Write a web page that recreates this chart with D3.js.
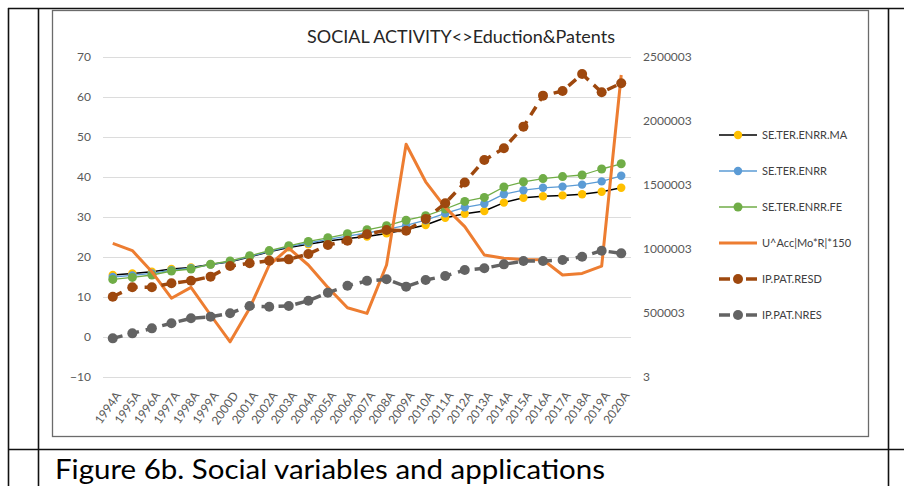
<!DOCTYPE html>
<html>
<head>
<meta charset="utf-8">
<script src="https://cdn.jsdelivr.net/npm/d3@7"></script>
<style>
  html, body { margin: 0; padding: 0; background: #fff; }
  svg { display: block; }
  text { font-family: Lato, "Open Sans", sans-serif; }
</style>
</head>
<body>
<svg id="chart" width="904" height="486"></svg>
<script>
// Categories (years)
const years = ["1994A","1995A","1996A","1997A","1998A","1999A","2000D","2001A","2002A","2003A",
  "2004A","2005A","2006A","2007A","2008A","2009A","2010A","2011A","2012A","2013A",
  "2014A","2015A","2016A","2017A","2018A","2019A","2020A"];

// Left-axis series
const enrrMA = [15.5,15.9,16.3,17.0,17.4,18.1,18.8,20.0,21.3,22.4,23.2,24.0,24.6,25.1,25.9,26.9,28.0,29.8,30.8,31.5,33.6,34.8,35.2,35.4,35.7,36.3,37.3];
const enrr   = [15.0,15.4,15.9,16.7,17.2,18.1,18.9,20.1,21.4,22.6,23.5,24.4,25.2,26.0,26.9,27.9,29.2,30.9,32.4,33.3,35.7,36.7,37.3,37.6,38.1,38.9,40.3];
const enrrFE = [14.4,14.9,15.5,16.5,17.0,18.2,19.0,20.3,21.6,22.8,23.9,24.8,25.8,26.8,27.8,29.2,30.3,32.0,33.9,34.9,37.5,38.8,39.6,40.1,40.5,42.0,43.3];
const uAcc   = [23.4,21.6,16.3,9.7,12.4,5.5,-1.2,7.2,18.0,22.2,18.0,12.4,7.3,5.9,18.0,48.2,38.8,32.4,27.6,20.5,19.7,19.4,19.3,15.5,15.9,17.7,65.5];

// Right-axis series
const patResd = [627000,701000,701000,732000,752000,784000,867000,888000,909000,919000,961000,1031000,1065000,1115000,1148000,1143000,1234000,1357000,1520000,1695000,1787000,1956000,2198000,2234000,2367000,2224000,2295000];
const patNres = [302000,341000,380000,420000,459000,471000,498000,555000,549000,555000,596000,659000,713000,751000,763000,706000,758000,789000,836000,849000,880000,906000,906000,914000,940000,987000,966000];

// Tick labels
const leftTicks  = [-10,0,10,20,30,40,50,60,70];
const rightTicks = [3,500003,1000003,1500003,2000003,2500003];

const seriesNames = ["SE.TER.ENRR.MA","SE.TER.ENRR","SE.TER.ENRR.FE","U^Acc|Mo*R|*150","IP.PAT.RESD","IP.PAT.NRES"];
const chartTitle = "SOCIAL ACTIVITY<>Eduction&Patents";
const caption = "Figure 6b. Social variables and applications";

const svg = d3.select("#chart");

// Surrounding table rules
const rules = svg.append("g").attr("stroke", "#111").attr("stroke-width", 1.6).attr("fill", "none");
rules.append("line").attr("x1", 8).attr("x2", 904).attr("y1", 8.5).attr("y2", 8.5);
rules.append("line").attr("x1", 8).attr("x2", 904).attr("y1", 449.5).attr("y2", 449.5);
rules.append("line").attr("x1", 8.5).attr("x2", 8.5).attr("y1", 8).attr("y2", 486);
rules.append("line").attr("x1", 38.5).attr("x2", 38.5).attr("y1", 8).attr("y2", 486);
rules.append("line").attr("x1", 888.5).attr("x2", 888.5).attr("y1", 8).attr("y2", 486);

// Chart frame
svg.append("rect").attr("x", 52.5).attr("y", 10.5).attr("width", 816).attr("height", 426)
  .attr("fill", "#fff").attr("stroke", "#6b6b6b").attr("stroke-width", 1.3);

const plotL = 103, plotR = 631, plotT = 57, plotB = 377;

const x = d3.scalePoint().domain(years).range([plotL, plotR]).padding(0.5);
const yL = d3.scaleLinear().domain([-10, 70]).range([plotB, plotT]);
const yR = d3.scaleLinear().domain([3, 2500003]).range([plotB, plotT]);

// Left axis with gridlines
const gL = svg.append("g").attr("transform", `translate(${plotL},0)`)
  .call(d3.axisLeft(yL).tickValues(leftTicks).tickSize(-(plotR - plotL)).tickPadding(12));
gL.select(".domain").remove();
gL.selectAll(".tick line").attr("stroke", "#dcdcdc").attr("stroke-width", 1.2);
gL.selectAll(".tick text").attr("fill", "#595959").style("font-size", "12px").style("font-family", "Lato, sans-serif");

// Right axis
const gR = svg.append("g").attr("transform", `translate(${plotR},0)`)
  .call(d3.axisRight(yR).tickValues(rightTicks).tickSize(0).tickPadding(12).tickFormat(d3.format("d")));
gR.select(".domain").remove();
gR.selectAll(".tick text").attr("fill", "#595959").style("font-size", "12px").style("font-family", "Lato, sans-serif");

// Category axis
const gX = svg.append("g").attr("transform", `translate(0,${plotB})`)
  .call(d3.axisBottom(x).tickSize(0));
gX.select(".domain").remove();
gX.selectAll(".tick text")
  .attr("fill", "#595959").style("font-size", "12px").style("font-family", "Lato, sans-serif")
  .attr("text-anchor", "end")
  .attr("dy", "0.35em").attr("y", 0)
  .attr("transform", "translate(5,16) rotate(-55)");

// Title
svg.append("text").attr("x", 461).attr("y", 43).attr("text-anchor", "middle")
  .attr("fill", "#262626").style("font-size", "17.5px")
  .attr("textLength", 308).attr("lengthAdjust", "spacingAndGlyphs")
  .text(chartTitle);

// Series definitions
const series = [
  { name: seriesNames[0], values: enrrMA,  y: yL, line: "#000000", width: 1.5, marker: "#FFC000", r: 4.2, dash: null },
  { name: seriesNames[1], values: enrr,    y: yL, line: "#5B9BD5", width: 1.3, marker: "#5B9BD5", r: 4.2, dash: null },
  { name: seriesNames[2], values: enrrFE,  y: yL, line: "#70AD47", width: 1.3, marker: "#70AD47", r: 4.5, dash: null },
  { name: seriesNames[3], values: uAcc,    y: yL, line: "#ED7D31", width: 3,   marker: null,      r: 0,   dash: null },
  { name: seriesNames[4], values: patResd, y: yR, line: "#9E480E", width: 3.5, marker: "#9E480E", r: 5,   dash: "10,7" },
  { name: seriesNames[5], values: patNres, y: yR, line: "#636363", width: 3.5, marker: "#636363", r: 5,   dash: "10,7" }
];

const plot = svg.append("g");
series.forEach(s => {
  const pts = years.map((yr, i) => [x(yr), s.y(s.values[i])]);
  plot.append("path")
    .attr("d", d3.line()(pts))
    .attr("fill", "none")
    .attr("stroke", s.line)
    .attr("stroke-width", s.width)
    .attr("stroke-linejoin", "round")
    .attr("stroke-dasharray", s.dash);
  if (s.marker) {
    plot.append("g").selectAll("circle").data(pts).join("circle")
      .attr("cx", d => d[0]).attr("cy", d => d[1]).attr("r", s.r)
      .attr("fill", s.marker);
  }
});

// Legend
const legendY = [135, 171, 207, 243, 279, 315];
const lg = svg.append("g");
series.forEach((s, i) => {
  const yy = legendY[i];
  if (s.dash) {
    lg.append("line").attr("x1", 719).attr("x2", 730).attr("y1", yy).attr("y2", yy)
      .attr("stroke", s.line).attr("stroke-width", s.width);
    lg.append("line").attr("x1", 746).attr("x2", 757).attr("y1", yy).attr("y2", yy)
      .attr("stroke", s.line).attr("stroke-width", s.width);
  } else {
    lg.append("line").attr("x1", 719).attr("x2", 757).attr("y1", yy).attr("y2", yy)
      .attr("stroke", s.line).attr("stroke-width", s.width);
  }
  if (s.marker) {
    lg.append("circle").attr("cx", 738).attr("cy", yy).attr("r", s.r).attr("fill", s.marker);
  }
  lg.append("text").attr("x", 762).attr("y", yy + 4)
    .attr("fill", "#404040").style("font-size", "11px").text(s.name);
});

// Caption
svg.append("text").attr("x", 55).attr("y", 479)
  .attr("fill", "#000").style("font-size", "27px")
  .attr("textLength", 550).attr("lengthAdjust", "spacingAndGlyphs")
  .text(caption);
</script>
</body>
</html>
